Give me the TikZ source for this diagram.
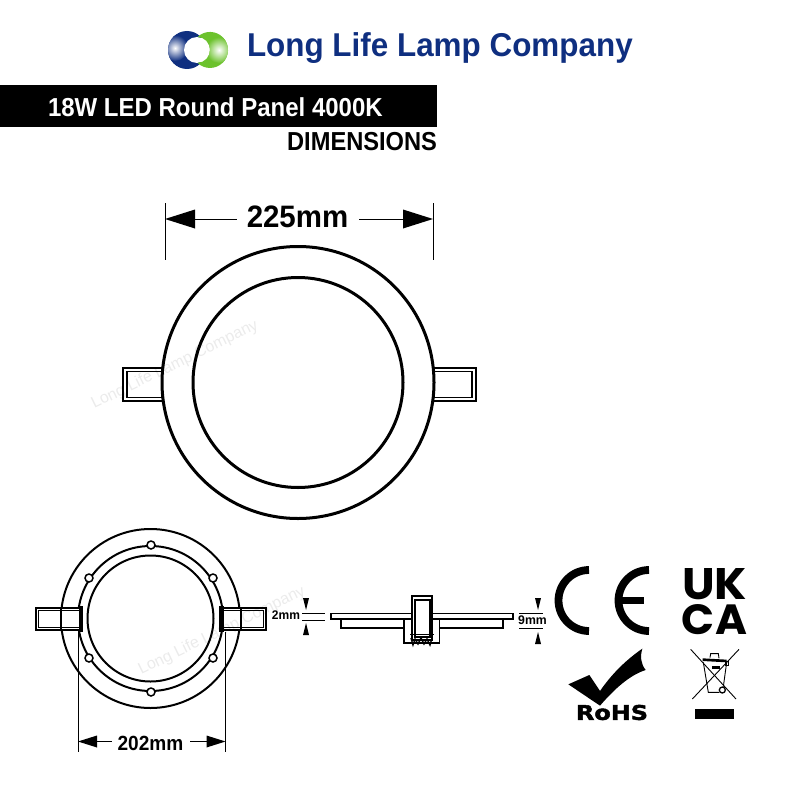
\documentclass[tikz,border=0pt]{standalone}
\usepackage{fontspec}
\setmainfont{Liberation Sans}
\definecolor{brandblue}{HTML}{0F2F80}
\definecolor{brandgreen}{HTML}{6CC22D}
\newcommand{\fs}[2]{\fontsize{#1}{#1}\selectfont\bfseries\addfontfeature{FakeStretch=#2}}
\tikzset{
  every node/.style={inner sep=0pt,outer sep=0pt},
  thickline/.style={line width=3pt,black},
  midline/.style={line width=2pt,black},
  extline/.style={line width=1pt,black},
  dimline/.style={line width=1pt,black},
  headfill/.style={fill=black,draw=none},
  wm/.style={text=black,text opacity=.08,rotate=26,font=\fontsize{16}{16}\selectfont},
  tabout/.style={draw=black,line width=2.5pt,fill=white},
  tabin/.style={draw=black,line width=1.5pt},
}
\newcommand{\hhead}[4]{\fill[headfill] (#1,#2) -- (#1+#3,#2-#4) -- (#1+#3,#2+#4) -- cycle;}
\newcommand{\vhead}[4]{\fill[headfill] (#1,#2) -- (#1-#4,#2+#3) -- (#1+#4,#2+#3) -- cycle;}
\begin{document}
\begin{tikzpicture}[x=1pt,y=-1pt]
\useasboundingbox (0,0) rectangle (800,800);
\fill[white] (0,0) rectangle (800,800);

% logo
\fill[brandblue] (187,50) circle [radius=19];
\begin{scope}
\clip (187,50) circle [radius=19];
\shade[inner color=white,outer color=brandblue] (175,48) circle [radius=13];
\end{scope}
\fill[white] (197,50) circle [radius=13];
\fill[brandgreen] (197.5,37) arc[start angle=-134,end angle=134,radius=18] arc[start angle=88,end angle=-88,radius=13] -- cycle;
\begin{scope}
\clip (197.5,37) arc[start angle=-134,end angle=134,radius=18] arc[start angle=88,end angle=-88,radius=13] -- cycle;
\shade[inner color=white,outer color=brandgreen] (219,50) circle [radius=13];
\end{scope}
\node[anchor=west,text=brandblue] (brand) at (247,48) {\fs{33}{.952}Long Life Lamp Company};

% title bar
\fill[black] (0,85) rectangle (437,127);
\node[anchor=west,text=white] (title) at (48,107) {\fs{26}{.923}18W LED Round Panel 4000K};
\node[anchor=east] (dimtitle) at (437,142) {\fs{26}{.91}DIMENSIONS};

% large top view
\draw[tabout] (123,368) rectangle (163,401);
\draw[tabin] (127,371.5) rectangle (163,397.5);
\draw[tabout] (433,368) rectangle (476,401);
\draw[tabin] (433,371.5) rectangle (472,397.5);
\draw[thickline,fill=white] (298,382.5) circle [radius=136];
\draw[thickline] (298,382.5) circle [radius=105];

% 225mm dimension
\coordinate (a1t) at (165,203); \coordinate (a1b) at (165,260);
\coordinate (a2t) at (433,203); \coordinate (a2b) at (433,260);
\draw[extline] (a1t) -- (a1b);
\draw[extline] (a2t) -- (a2b);
\node (d225) at (297.5,217) {\fs{31}{.95}225mm};
\coordinate (a1l) at (195,219); \coordinate (a1r) at (237,219);
\coordinate (a2l) at (359,219); \coordinate (a2r) at (403,219);
\draw[dimline] (a1l) -- (a1r);
\draw[dimline] (a2l) -- (a2r);
\hhead{165}{219}{30}{9.5}
\hhead{433}{219}{-30}{9.5}

% small rear view
\draw[midline] (150.5,618.5) circle [radius=89.5];
\draw[midline] (150.5,618.5) circle [radius=72.5];
\draw[midline] (150.5,618.5) circle [radius=63];
\foreach \px/\py in {151/545,89/578,213/578,89/658,213/658,151/692}{
  \draw[line width=1.5pt,fill=white] (\px,\py) circle [radius=4];
}
% rear clips
\fill[white] (36,608) rectangle (82,630);
\draw[midline] (61,608) -- (61,630);
\draw[black,line width=2.3pt] (36,608) rectangle (82,630);
\draw[black,line width=1.5pt] (38.5,610.5) rectangle (80,627.5);
\fill[black] (78.5,606) rectangle (83,632);
\fill[white] (220,608) rectangle (266,630);
\draw[midline] (240.5,608) -- (240.5,630);
\draw[black,line width=2.3pt] (220,608) rectangle (266,630);
\draw[black,line width=1.5pt] (222.5,610.5) rectangle (263.5,627.5);
\fill[black] (219,606) rectangle (223.5,632);

% 202mm dimension
\coordinate (b1t) at (78,632); \coordinate (b1b) at (78,752);
\coordinate (b2t) at (225.5,632); \coordinate (b2b) at (225.5,752);
\draw[extline] (b1t) -- (b1b);
\draw[extline] (b2t) -- (b2b);
\node (d202) at (150.5,743) {\fs{20.5}{.93}202mm};
\coordinate (b1l) at (96,741.5); \coordinate (b1r) at (112,741.5);
\coordinate (b2l) at (190,741.5); \coordinate (b2r) at (207,741.5);
\draw[dimline] (b1l) -- (b1r);
\draw[dimline] (b2l) -- (b2r);
\hhead{78}{741.5}{19}{6}
\hhead{225.5}{741.5}{-19}{6}

% side view
\draw[line width=1.7pt] (331,613.5) rectangle (513,619);
\draw[line width=1.5pt] (341,619) -- (341,628) -- (404,628);
\draw[line width=1.5pt] (503,619) -- (503,628) -- (439,628);
\draw[line width=1.5pt] (404,619) -- (404,643) -- (439.5,643) -- (439.5,619);
\draw[line width=1.7pt,fill=white] (412,596) rectangle (432,640);
\draw[line width=1.1pt] (415,600) rectangle (430,637);
\draw[line width=1pt] (410,634) -- (434,634);
\draw[line width=1.4pt] (411,638) -- (413,645) -- (415,639) -- (418,644) -- (421,638) -- (424,644) -- (427,639) -- (430,645) -- (432,638);

% 2mm
\node (d2) at (286,615.5) {\fs{12.5}{.96}2mm};
\coordinate (c1l) at (302,613); \coordinate (c1r) at (325,613);
\coordinate (c2l) at (302,620); \coordinate (c2r) at (325,620);
\draw[line width=.8pt] (c1l) -- (c1r);
\draw[line width=.8pt] (c2l) -- (c2r);
\vhead{306}{610}{-12}{3}
\vhead{306}{623}{12}{3}
% 9mm
\node (d9) at (532.5,620.5) {\fs{12.5}{.98}9mm};
\coordinate (e1l) at (519,613); \coordinate (e1r) at (543,613);
\coordinate (e2l) at (519,628); \coordinate (e2r) at (543,628);
\draw[line width=.8pt] (e1l) -- (e1r);
\draw[line width=.8pt] (e2l) -- (e2r);
\vhead{538}{610}{-12}{3}
\vhead{538}{632}{12}{3}

% CE
\draw[line width=7.8pt,line cap=butt] (589,570) arc[start angle=270,end angle=90,radius=30.5];
\draw[line width=7.8pt,line cap=butt] (649,570) arc[start angle=270,end angle=90,radius=30.5];
\draw[line width=6.5pt] (620,600.5) -- (644,600.5);

% UKCA
\node (uk) at (714.5,584.5) {\resizebox{65pt}{31pt}{\fontspec{Poppins}\bfseries UK}};
\node (ca) at (714.5,620) {\resizebox{65pt}{30pt}{\fontspec{Poppins}\bfseries CA}};

% RoHS
\begin{scope}[shift={(550,555)},scale=1/3]
\fill[black] (150,452) -- (55,388) -- (118,360) -- (150,408)
  .. controls (190,350) and (235,310) .. (277,281)
  .. controls (270,305) and (272,325) .. (287,345)
  .. controls (240,360) and (195,400) .. (150,452) -- cycle;
\end{scope}
\node (rohs) at (612,712.5) {\resizebox{72pt}{15pt}{\fontspec{DejaVu Sans Bold}[FakeBold=2]RoHS}};

% WEEE
\begin{scope}[shift={(550,555)},scale=1/3]
\draw[line width=.9pt] (422,283) -- (558,432);
\draw[line width=.9pt] (567,283) -- (427,432);
\draw[line width=.9pt] (460,322) -- (475,412) -- (508,412);
\draw[line width=.9pt] (530,322) -- (520,395);
\fill[black] (458,310) -- (530,314) -- (530,322) -- (458,318) -- cycle;
\draw[line width=.9pt] (480,308) -- (482,296) -- (505,296) -- (507,310);
\fill[black] (487,333) rectangle (510,341);
\draw[line width=1.3pt] (517,405) circle [radius=9];
\draw[line width=.7pt] (525,320) rectangle (536,332);
\fill[black] (435,463) rectangle (553,492);
\end{scope}

% watermarks
\node[wm] (wm1) at (175,365) {Long Life Lamp Company};
\node[wm] (wm2) at (222,631) {Long Life Lamp Company};
\end{tikzpicture}
\end{document}
